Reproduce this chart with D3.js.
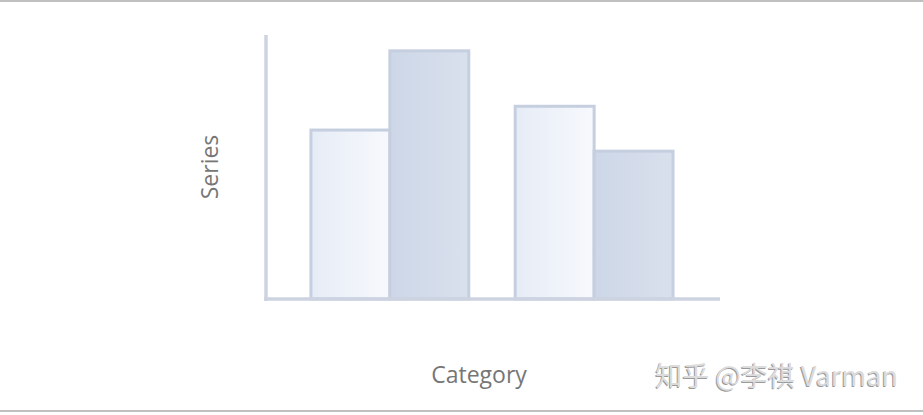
<!DOCTYPE html>
<html>
<head>
<meta charset="utf-8">
<script src="https://cdn.jsdelivr.net/npm/d3@7"></script>
<style>
  body { margin: 0; background: #fff; }
  svg { display: block; }
</style>
</head>
<body>
<svg id="chart" width="923" height="415"></svg>
<script>
const categories = ['Group 1', 'Group 2'];
const series1 = [64, 73];
const series2 = [94, 56];
const seriesNames = ['Series 1', 'Series 2'];

const svg = d3.select('#chart');
const width = 923,
    height = 415;

// frame lines top and bottom
svg.append('line')
    .attr('x1', 0).attr('x2', width)
    .attr('y1', 1).attr('y2', 1)
    .attr('stroke', '#c0c0c0')
    .attr('stroke-width', 2);
svg.append('line')
    .attr('x1', 0).attr('x2', width)
    .attr('y1', 411).attr('y2', 411)
    .attr('stroke', '#c0c0c0')
    .attr('stroke-width', 2);

const defs = svg.append('defs');
const grads = [
    ['g1', '#e6ecf6', '#f7f9fd'],
    ['g2', '#cdd7e7', '#d9e0ed'],
];
grads.forEach(([id, a, b]) => {
    const g = defs.append('linearGradient')
        .attr('id', id)
        .attr('x1', '0%').attr('x2', '100%')
        .attr('y1', '0%').attr('y2', '0%');
    g.append('stop').attr('offset', '0%').attr('stop-color', a);
    g.append('stop').attr('offset', '100%').attr('stop-color', b);
});

const x = d3.scaleBand()
    .domain(categories)
    .range([266, 718])
    .paddingInner(0.227)
    .paddingOuter(0.22);

const x1 = d3.scaleBand()
    .domain(seriesNames)
    .range([0, x.bandwidth()]);

const y = d3.scaleLinear()
    .domain([0, 100])
    .range([299, 35]);

const rows = categories.map((c, i) => ({
    cat: c,
    vals: [
        { name: seriesNames[0], v: series1[i], fill: 'url(#g1)' },
        { name: seriesNames[1], v: series2[i], fill: 'url(#g2)' },
    ],
}));

const group = svg.append('g')
    .selectAll('g')
    .data(rows)
    .enter()
    .append('g')
    .attr('transform', (d) => `translate(${x(d.cat)},0)`);

group.selectAll('rect')
    .data((d) => d.vals)
    .enter()
    .append('rect')
    .attr('x', (d) => x1(d.name))
    .attr('width', x1.bandwidth())
    .attr('y', (d) => y(d.v))
    .attr('height', (d) => y(0) - y(d.v))
    .attr('fill', (d) => d.fill)
    .attr('stroke', '#c6cfdf')
    .attr('stroke-width', 3);

// axes, plain lines without ticks
svg.append('line')
    .attr('x1', 266).attr('x2', 266)
    .attr('y1', y(100)).attr('y2', y(0) + 2)
    .attr('stroke', '#cdd3e0')
    .attr('stroke-width', 3.5);
svg.append('line')
    .attr('x1', 264).attr('x2', 720)
    .attr('y1', y(0)).attr('y2', y(0))
    .attr('stroke', '#cdd3e0')
    .attr('stroke-width', 3.5);

svg.append('text')
    .attr('x', 479)
    .attr('y', 383)
    .attr('text-anchor', 'middle')
    .attr('fill', '#767676')
    .style('font', '23px "Open Sans", sans-serif')
    .text('Category');

svg.append('text')
    .attr('transform', 'translate(218,167) rotate(-90)')
    .attr('text-anchor', 'middle')
    .attr('fill', '#767676')
    .style('font', '23px "Open Sans", sans-serif')
    .text('Series');

// watermark
const wm = svg.append('g').style('font', '27px "Noto Sans CJK SC", sans-serif');
wm.append('text')
    .attr('x', 897).attr('y', 387)
    .attr('text-anchor', 'end')
    .attr('fill', '#9a9a9a')
    .text('知乎 @李祺 Varman');
wm.append('text')
    .attr('x', 898).attr('y', 386)
    .attr('text-anchor', 'end')
    .attr('fill', '#dcdcdc')
    .text('知乎 @李祺 Varman');
</script>
</body>
</html>
